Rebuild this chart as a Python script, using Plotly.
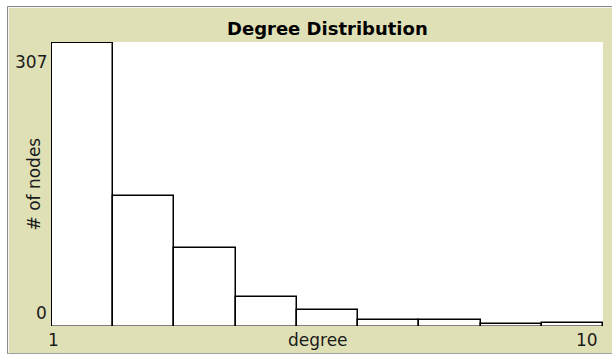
import plotly.graph_objects as go

# ---- data ----
degrees = [1, 2, 3, 4, 5, 6, 7, 8, 9]
node_counts = [307, 142, 85, 32, 18, 7, 7, 3, 4]
x_min_label = "1"
x_max_label = "10"
y_min_label = "0"
y_max_label = "307"
title_text = "Degree Distribution"
x_title = "degree"
y_title = "# of nodes"

# ---- layout geometry (pixels) ----
W, H = 612, 356
ML, MR, MT, MB = 51, 9, 42, 30
PW = W - ML - MR
PH = H - MT - MB

def px(x):
    return (x - ML) / PW

def py(y):
    return (H - MB - y) / PH

BEIGE = "#E0E0B6"
FONT = "DejaVu Sans"
TXT = "#1a1a1a"

fig = go.Figure()
fig.add_trace(go.Bar(
    x=degrees, y=node_counts, offset=0, width=1,
    marker=dict(color="white", line=dict(color="black", width=1.5)),
    hoverinfo="skip",
))

ann = []
ann.append(dict(text="<b>" + title_text + "</b>", x=px(327.5), y=py(29), xref="paper", yref="paper",
                xanchor="center", yanchor="middle", showarrow=False,
                font=dict(family=FONT, size=18, color="black")))
ann.append(dict(text=y_max_label, x=px(49), y=py(62), xref="paper", yref="paper",
                xanchor="right", yanchor="middle", showarrow=False,
                font=dict(family=FONT, size=17, color=TXT)))
ann.append(dict(text=y_min_label, x=px(49), y=py(313), xref="paper", yref="paper",
                xanchor="right", yanchor="middle", showarrow=False,
                font=dict(family=FONT, size=17, color=TXT)))
ann.append(dict(text=x_min_label, x=px(53.5), y=py(340), xref="paper", yref="paper",
                xanchor="center", yanchor="middle", showarrow=False,
                font=dict(family=FONT, size=17, color=TXT)))
ann.append(dict(text=x_max_label, x=px(600), y=py(340), xref="paper", yref="paper",
                xanchor="right", yanchor="middle", showarrow=False,
                font=dict(family=FONT, size=17, color=TXT)))
ann.append(dict(text=x_title, x=px(317.5), y=py(340), xref="paper", yref="paper",
                xanchor="center", yanchor="middle", showarrow=False,
                font=dict(family=FONT, size=17, color=TXT)))
ann.append(dict(text=y_title, x=px(33), y=py(184.5), xref="paper", yref="paper",
                xanchor="center", yanchor="middle", showarrow=False, textangle=-90,
                font=dict(family=FONT, size=17, color=TXT)))

shapes = [
    # white surroundings outside the widget
    dict(type="rect", xref="paper", yref="paper", x0=px(0), x1=px(7), y0=py(0), y1=py(H),
         fillcolor="white", line=dict(width=0), layer="above"),
    dict(type="rect", xref="paper", yref="paper", x0=px(0), x1=px(W), y0=py(0), y1=py(6),
         fillcolor="white", line=dict(width=0), layer="above"),
    dict(type="rect", xref="paper", yref="paper", x0=px(0), x1=px(W), y0=py(354), y1=py(H),
         fillcolor="white", line=dict(width=0), layer="above"),
    # frame lines
    dict(type="line", xref="paper", yref="paper", x0=px(7.5), x1=px(7.5), y0=py(6.5), y1=py(353.5),
         line=dict(color="#8a8a8a", width=1), layer="above"),
    dict(type="line", xref="paper", yref="paper", x0=px(7.5), x1=px(W), y0=py(6.5), y1=py(6.5),
         line=dict(color="#8a8a8a", width=1), layer="above"),
    dict(type="line", xref="paper", yref="paper", x0=px(8.5), x1=px(8.5), y0=py(7.5), y1=py(353),
         line=dict(color="#f4f4f4", width=1), layer="above"),
    dict(type="line", xref="paper", yref="paper", x0=px(8.5), x1=px(W), y0=py(7.5), y1=py(7.5),
         line=dict(color="#f4f4f4", width=1), layer="above"),
    dict(type="line", xref="paper", yref="paper", x0=px(7.5), x1=px(W), y0=py(353.5), y1=py(353.5),
         line=dict(color="#a0a0a0", width=1), layer="above"),
]

fig.update_layout(
    width=W, height=H,
    margin=dict(l=ML, r=MR, t=MT, b=MB, pad=0),
    paper_bgcolor=BEIGE, plot_bgcolor="white",
    showlegend=False, bargap=0,
    annotations=ann, shapes=shapes,
    xaxis=dict(range=[degrees[0] - 0.016, degrees[-1] + 1], showgrid=False, zeroline=False,
               showticklabels=False, showline=False, ticks="", fixedrange=True),
    yaxis=dict(range=[0.9, max(node_counts) * 1.004], showgrid=False, zeroline=False,
               showticklabels=False, showline=False, ticks="", fixedrange=True),
)

fig.write_html(
    "out.html",
    config={"displayModeBar": False},
    post_script="document.body.style.margin='0';document.body.style.padding='0';"
                "document.body.style.overflow='hidden';",
)
